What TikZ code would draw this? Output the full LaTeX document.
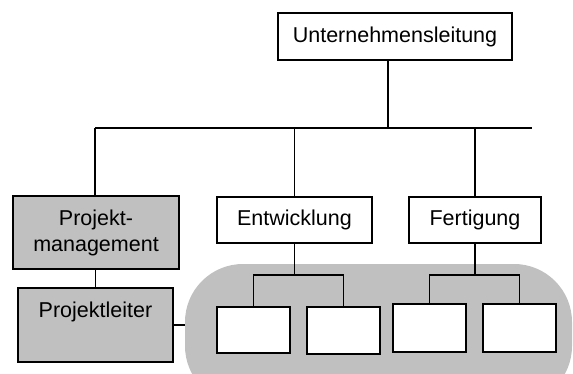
\documentclass[tikz,border=0pt]{standalone}
\usepackage{fontspec}
\setmainfont{Liberation Sans}
\usetikzlibrary{calc}
\definecolor{poolgray}{HTML}{C0C0C0}
\begin{document}
\begin{tikzpicture}[x=1pt,y=-1pt,
  font=\fontsize{21.5}{26}\selectfont,
  box/.style={draw=black,line width=1.3pt,fill=white,inner sep=0pt,rectangle},
  staff/.style={box,fill=poolgray},
  wire/.style={draw=black,line width=1.3pt}]
\useasboundingbox (0,0) rectangle (573,374);

% shaded pool behind the department units
\node[fill=poolgray,rounded corners=58pt,minimum width=387pt,minimum height=140pt,inner sep=0pt] (pool) at (378.5,334) {};

% boxes
\node[box,minimum width=234pt,minimum height=47pt] (top) at (395,36.5) {Unternehmensleitung};
\node[staff,minimum width=166pt,minimum height=73pt,align=center] (pm) at (96,232.5) {Projekt-\\management};
\node[staff,minimum width=155pt,minimum height=74pt] (pl) at (95.5,325) {};
\node (pltext) at ($(pl.north)+(0,25)$) {Projektleiter};
\node[box,minimum width=155pt,minimum height=46pt] (ent) at (294.5,220) {Entwicklung};
\node[box,minimum width=132pt,minimum height=46pt] (fer) at (475,220) {Fertigung};

\node[box,minimum width=73pt,minimum height=46pt] (s1) at (253.5,330) {};
\node[box,minimum width=73pt,minimum height=47pt] (s2) at (343.5,330.5) {};
\node[box,minimum width=73pt,minimum height=48pt] (s3) at (429.5,328) {};
\node[box,minimum width=73pt,minimum height=48pt] (s4) at (519.5,328) {};

% bus line and junctions
\coordinate (busL) at (95,128);
\coordinate (busR) at (532,128);
\coordinate (busJ) at (388,128);
\coordinate (ej) at (294.5,275);
\coordinate (fj) at (475,275);

\draw[wire] (busL) -- (busR);
\draw[wire,line width=1.7pt] (top.south -| busJ) -- (busJ);
\draw[wire] (busL) -- (pm.north -| busL);
\draw[wire] (ent.north |- busL) -- (ent.north);
\draw[wire] (fer.north |- busL) -- (fer.north);
\draw[wire] (pm.south -| pl.north) -- (pl.north);
\draw[wire] (pl.east) -- (pool.west |- pl.east);

\draw[wire,line width=1.7pt] (ent.south) -- (ej);
\draw[wire] (s1.north) |- (ej) -| (s2.north);
\draw[wire] (fer.south) -- (fj);
\draw[wire] (s3.north) |- (fj) -| (s4.north);
\end{tikzpicture}
\end{document}
